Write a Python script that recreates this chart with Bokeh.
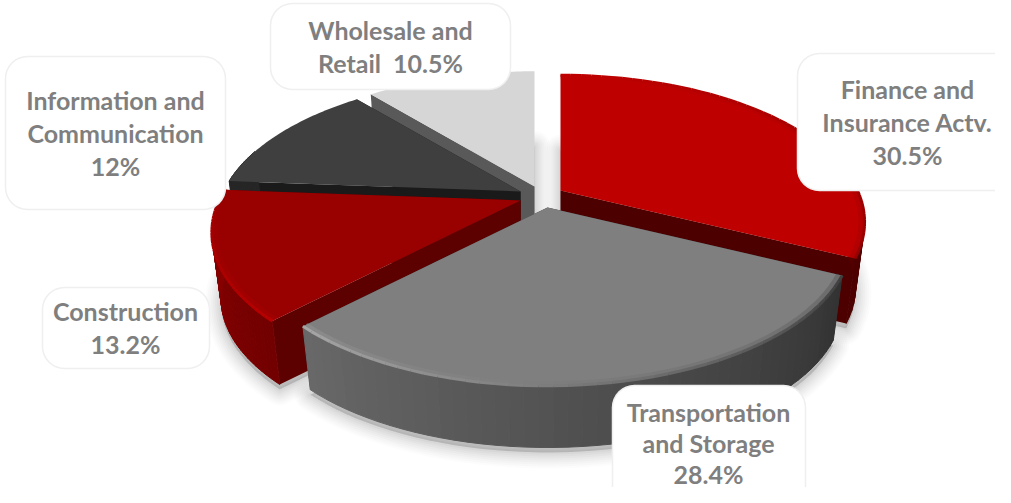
import math
from bokeh.plotting import figure
from bokeh.models import Range1d
from bokeh.core.properties import value
from bokeh.embed import file_html
from bokeh.resources import INLINE

# ---- data ----
categories = ["Finance and Insurance Actv.", "Transportation and Storage", "Construction",
              "Information and Communication", "Wholesale and Retail"]
values = [30.5, 28.4, 13.2, 12, 10.5]
label_lines = [["Finance and", "Insurance Actv."], ["Transportation", "and Storage"], ["Construction"],
               ["Information and", "Communication"], ["Wholesale and", "Retail\u00a0\u00a0"]]

# ---- styles / layout ----
top_colors = ["#bf0000", "#7f7f7f", "#990000", "#3f3f3f", "#d6d6d6"]
edge_colors = ["#4d0000", "#333333", "#5c0000", "#1a1a1a", "#595959"]
wall_from = ["#7a0000", "#333333", "#720000", "#262626", "#9a9a9a"]
wall_to = ["#4d0000", "#686868", "#8e0000", "#262626", "#9a9a9a"]
rim_from = ["#bf0000", "#404040", "#b80000", "#3f3f3f", "#d6d6d6"]
rim_to = ["#960000", "#a6a6a6", "#9c0000", "#3f3f3f", "#d6d6d6"]
apex = [(560, 190), (547, 207), (520, 200), (520, 191), (534, 186)]
slice_scale = [1.0, 1.0, 1.015, 1.0, 1.0]
paint_order = [4, 0, 3, 2, 1]
R, RK, PERSP, SHRINK, H = 297, 140, 0.215, 0.97, 67
boxes = [(797, 1030, 53, 190), (612, 805, 385, 530), (42, 209, 287, 368), (5, 225, 56, 209), (270, 510, 3, 89)]
text_centers = [(907, 88), (708, 411), (125, 310), (115, 99), (390, 29)]
line_steps = [33, 31, 33, 33, 33]
SIZE = "25px"


def hex_rgb(c):
    return tuple(int(c[i:i + 2], 16) for i in (1, 3, 5))


def lerp(a, b, f):
    ra, rb = hex_rgb(a), hex_rgb(b)
    return "#%02x%02x%02x" % tuple(round(x + (y - x) * f) for x, y in zip(ra, rb))


def proj(t, ap, scale=1.0):
    x, z = math.sin(t), math.cos(t)
    d = 1 + PERSP * z
    return ap[0] + scale * R * x / d, ap[1] - scale * RK * z / d


def low(pt, ap):
    return ap[0] + (pt[0] - ap[0]) * SHRINK, ap[1] + (pt[1] - ap[1]) * SHRINK + H


total = sum(values)
cuts = [0.0]
for v in values:
    cuts.append(cuts[-1] + v / total * 2 * math.pi)


def arc_angles(i, n=48):
    return [cuts[i] + (cuts[i + 1] - cuts[i]) * k / n for k in range(n + 1)]


def arc(i, n=48, scale=1.0):
    return [proj(t, apex[i], scale * slice_scale[i]) for t in arc_angles(i, n)]


p = figure(width=995, height=487, x_range=Range1d(0, 995), y_range=Range1d(487, 0),
           toolbar_location=None, output_backend="svg", min_border=0)
p.axis.visible = False
p.grid.visible = False
p.outline_line_color = None
p.background_fill_color = "white"

# soft shadow
for w, alpha in [(32, 0.012), (28, 0.014), (24, 0.016), (20, 0.018), (16, 0.02), (12, 0.022), (8, 0.024), (4, 0.026)]:
    for i in range(5):
        pts = [low(q, apex[i]) for q in arc(i)] + [(apex[i][0], apex[i][1] + H)]
        p.patch([q[0] for q in pts], [q[1] + 5 for q in pts], fill_color="#000000", fill_alpha=alpha,
                line_color="#000000", line_alpha=alpha, line_width=w, line_join="round")

# slices painted back to front
for i in paint_order:
    a = arc(i)
    ang = arc_angles(i)
    ap = apex[i]
    ap_low = (ap[0], ap[1] + H)
    for corner in (a[0], a[-1]):
        lo = low(corner, ap)
        p.patch([ap[0], corner[0], lo[0], ap_low[0]], [ap[1], corner[1], lo[1], ap_low[1]],
                fill_color=edge_colors[i], line_color=None)
    xs, ys, cols = [], [], []
    for k in range(len(a) - 1):
        if math.cos(ang[k]) > 0.3 and math.cos(ang[k + 1]) > 0.3:
            continue  # back-facing part of the outer wall
        q0, q1 = a[k], a[k + 1]
        l0, l1 = low(q0, ap), low(q1, ap)
        xs.append([q0[0], q1[0], l1[0], l0[0]])
        ys.append([q0[1], q1[1], l1[1], l0[1]])
        cols.append(lerp(wall_from[i], wall_to[i], k / (len(a) - 2)))
    if xs:
        p.patches(xs, ys, fill_color=cols, line_color=cols, line_width=1)
    pts = a + [ap]
    p.patch([q[0] for q in pts], [q[1] for q in pts], fill_color=top_colors[i], line_color=None)
    # bevelled rim on the front-facing slices
    if rim_from[i] != top_colors[i] or rim_to[i] != top_colors[i]:
        rim = [lerp(rim_from[i], rim_to[i], k / (len(a) - 2)) for k in range(len(a) - 1)]
        inner = arc(i, scale=0.988)
        for src, width, alpha in [(inner, 5, 0.3), (a, 3, 1.0)]:
            seg_x = [[src[k][0], src[k + 1][0]] for k in range(len(src) - 1)]
            seg_y = [[src[k][1], src[k + 1][1]] for k in range(len(src) - 1)]
            p.multi_line(seg_x, seg_y, line_color=rim, line_width=width, line_alpha=alpha, line_cap="butt")


# label boxes
def rounded(x0, x1, y0, y1, r=22, n=8):
    out = []
    for cx, cy, s in [(x1 - r, y0 + r, -90), (x1 - r, y1 - r, 0), (x0 + r, y1 - r, 90), (x0 + r, y0 + r, 180)]:
        for k in range(n + 1):
            th = math.radians(s + 90 * k / n)
            out.append((cx + r * math.cos(th), cy + r * math.sin(th)))
    return out


for b in boxes:
    pts = rounded(*b)
    p.patch([q[0] for q in pts], [q[1] for q in pts], fill_color="white", line_color="#efefef", line_width=1.5)

tx, ty, tt = [], [], []
for i, lines in enumerate(label_lines):
    pct = f"{values[i]:g}%"
    if i == 4:
        rows = [lines[0], lines[1] + pct]
    else:
        rows = lines + [pct]
    for k, row in enumerate(rows):
        tx.append(text_centers[i][0])
        ty.append(text_centers[i][1] + k * line_steps[i])
        tt.append(row)
p.text(tx, ty, tt, text_font=value("Lato"), text_font_style="bold", text_font_size=SIZE,
       text_color="#7f7f7f", text_align="center", text_baseline="middle")

open("out.html", "w").write(file_html(p, INLINE))
